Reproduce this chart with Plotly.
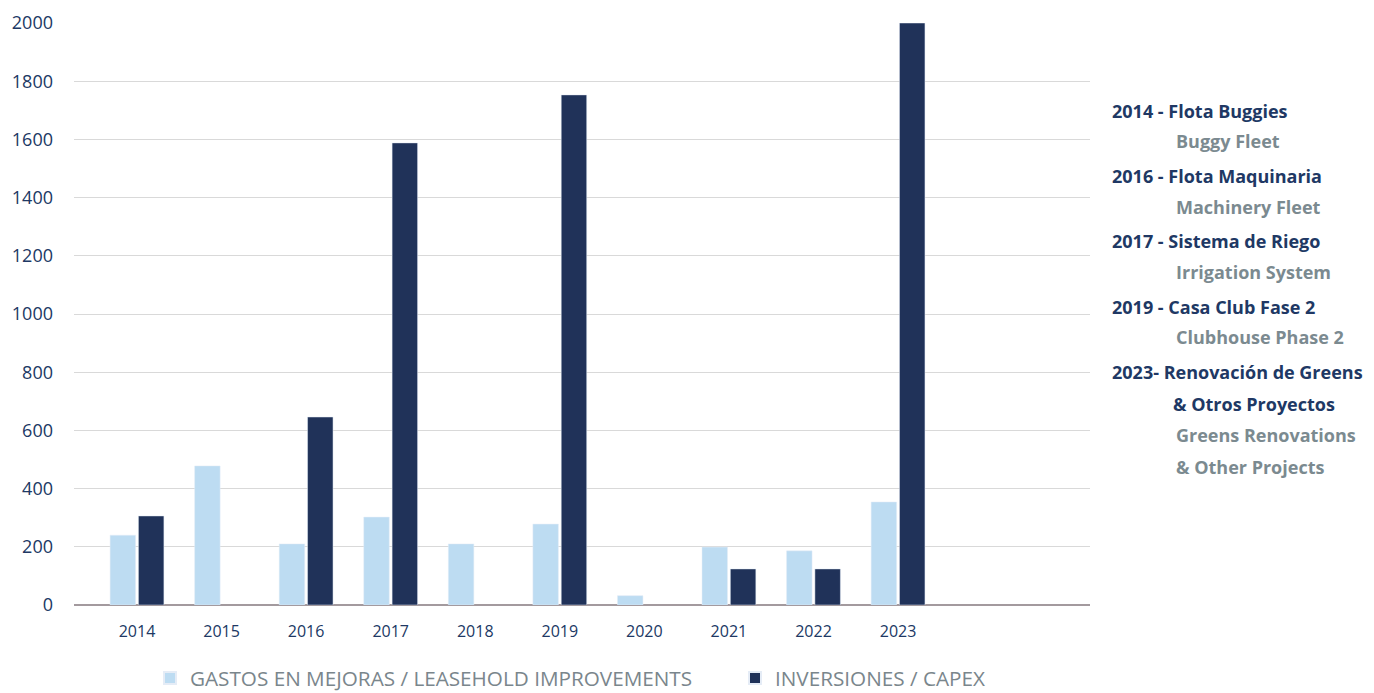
import plotly.graph_objects as go

years = ["2014", "2015", "2016", "2017", "2018", "2019", "2020", "2021", "2022", "2023"]
extra_slots = ["", " "]
leasehold = [240, 478, 210, 302, 210, 278, 32, 199, 186, 354]
capex = [306, None, 646, 1588, None, 1753, None, 124, 124, 2000]

name_leasehold = "GASTOS EN MEJORAS / LEASEHOLD IMPROVEMENTS"
name_capex = "INVERSIONES / CAPEX"

notes_es = ["2014 - Flota Buggies", "2016 - Flota Maquinaria", "2017 - Sistema de Riego",
            "2019 - Casa Club Fase 2", "2023- Renovación de Greens", "& Otros Proyectos"]
notes_en = ["Buggy Fleet", "Machinery Fleet", "Irrigation System", "Clubhouse Phase 2",
            "Greens Renovations", "& Other Projects"]

NAVY = "#203864"
GRAY = "#7b8a90"
FONT = "Open Sans"

fig = go.Figure()
fig.add_trace(go.Bar(x=years, y=leasehold, name=name_leasehold, marker_color="#bddcf2",
                     legend="legend"))
fig.add_trace(go.Bar(x=years, y=capex, name=name_capex, marker_color="#203259",
                     legend="legend2"))

# page has 8px body margin; figure drawn at 1366x685
OFF = 8
FW, FH = 1366, 685
L, T = 74 - OFF, 23 - OFF
R = FW - (1090 - OFF)
B = FH - (605 - OFF)
W, H = FW - L - R, FH - T - B
def px(x): return (x - OFF - L) / W
def py(y): return (FH - B - (y - OFF)) / H

es_pos = [(1110, 111), (1110, 176), (1110, 241), (1110, 307), (1110, 372), (1171, 404)]
en_pos = [(1174, 141), (1174, 207), (1174, 272), (1174, 337), (1174, 435), (1174, 467)]
ann = []
for t, (x, y) in zip(notes_es, es_pos):
    ann.append(dict(text="<b>" + t + "</b>", x=px(x), y=py(y), xref="paper", yref="paper",
                    xanchor="left", yanchor="middle", showarrow=False,
                    font=dict(family=FONT, size=18, color=NAVY)))
for t, (x, y) in zip(notes_en, en_pos):
    ann.append(dict(text="<b>" + t + "</b>", x=px(x), y=py(y), xref="paper", yref="paper",
                    xanchor="left", yanchor="middle", showarrow=False,
                    font=dict(family=FONT, size=18, color=GRAY)))

legend_y = (FH - (678 - OFF)) / FH
legend_common = dict(orientation="h", xanchor="left", yref="container", y=legend_y,
                     yanchor="middle", font=dict(family=FONT, size=20.7, color="#7a868c"),
                     itemsizing="constant", bgcolor="rgba(0,0,0,0)")

fig.update_layout(
    width=FW, height=FH,
    margin=dict(l=L, r=R, t=T, b=B, autoexpand=False),
    paper_bgcolor="white", plot_bgcolor="white",
    barmode="group", bargap=0.33, bargroupgap=0.1,
    font=dict(family=FONT, color=NAVY),
    showlegend=True,
    legend=dict(x=px(150), **legend_common),
    legend2=dict(x=px(735), **legend_common),
    annotations=ann,
)
fig.update_xaxes(type="category", categoryorder="array", categoryarray=years + extra_slots,
                 range=[-0.745, 11.27], showgrid=False, showline=False, zeroline=False,
                 ticks="", tickfont=dict(family=FONT, size=16, color=NAVY), ticklabelstandoff=15)
fig.update_yaxes(range=[0, 2000], dtick=200, showgrid=True, gridcolor="#d9d9d9", gridwidth=1,
                 zeroline=True, zerolinecolor="#a39a9e", zerolinewidth=2, showline=False,
                 ticks="", tickfont=dict(family=FONT, size=18, color=NAVY), ticklabelstandoff=20)

fig.write_html("out.html")
